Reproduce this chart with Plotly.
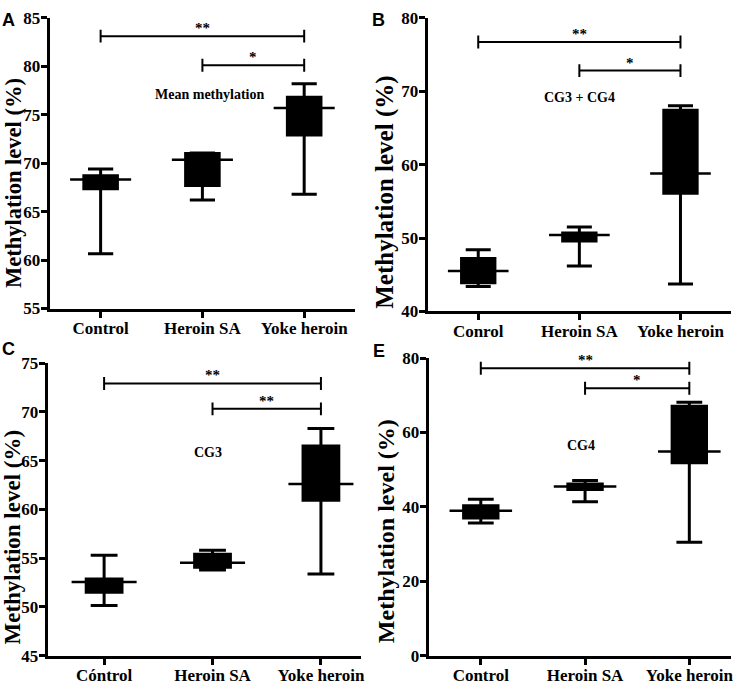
import plotly.graph_objects as go

# ---------------- data ----------------
positions = [0, 1, 2]
labels_A = ["Control", "Heroin SA", "Yoke heroin"]
labels_B = ["Conrol", "Heroin SA", "Yoke heroin"]
labels_C = ["Cóntrol", "Heroin SA", "Yoke heroin"]
labels_E = ["Control", "Heroin SA", "Yoke heroin"]

A_min = [60.65, 66.2, 66.8]
A_q1 = [67.35, 67.7, 72.9]
A_med = [68.3, 70.35, 75.7]
A_q3 = [68.7, 71.0, 76.8]
A_max = [69.4, 71.05, 78.2]

B_min = [43.4, 46.2, 43.75]
B_q1 = [43.9, 49.6, 56.1]
B_med = [45.5, 50.4, 58.8]
B_q3 = [47.2, 50.7, 67.4]
B_max = [48.4, 51.5, 68.0]

C_min = [50.15, 53.8, 53.37]
C_q1 = [51.5, 54.06, 60.94]
C_med = [52.55, 54.53, 62.6]
C_q3 = [52.87, 55.39, 66.5]
C_max = [55.29, 55.8, 68.3]

E_min = [35.7, 41.4, 30.5]
E_q1 = [37.0, 44.7, 51.9]
E_med = [39.0, 45.5, 54.9]
E_q3 = [40.3, 46.2, 67.1]
E_max = [42.1, 47.1, 68.15]

sig_pairs = [(0, 2), (1, 2)]
A_sig_y = [83.1, 80.1]
B_sig_y = [76.7, 72.8]
C_sig_y = [72.9, 70.3]
E_sig_y = [77.3, 71.9]
A_sig_txt = ["**", "*"]
B_sig_txt = ["**", "*"]
C_sig_txt = ["**", "**"]
E_sig_txt = ["**", "*"]

A_title = "Mean methylation"
B_title = "CG3 + CG4"
C_title = "CG3"
E_title = "CG4"
ytitle = "Methylation level (%)"

# ---------------- layout of panels ----------------
W, H = 740, 692
SERIF = "Liberation Serif"

panels = [
    dict(letter="A", ax="", labels=labels_A, mn=A_min, q1=A_q1, md=A_med, q3=A_q3, mx=A_max,
         sig=A_sig_y, sigt=A_sig_txt, title=A_title, title_pos=(1.07, 77.1),
         xpx=(50, 357), ypx=(9, 308), yr=(55, 85), dt=5, xr=(-0.5, 2.5),
         ytc=(13, 179), ytfs=22.5, letter_pos=(9, 11)),
    dict(letter="B", ax="2", labels=labels_B, mn=B_min, q1=B_q1, md=B_med, q3=B_q3, mx=B_max,
         sig=B_sig_y, sigt=B_sig_txt, title=B_title, title_pos=(1.0, 69.2),
         xpx=(430, 735), ypx=(9, 311), yr=(40, 80), dt=10, xr=(-0.5, 2.5),
         ytc=(387, 188), ytfs=25, letter_pos=(381, 11)),
    dict(letter="C", ax="3", labels=labels_C, mn=C_min, q1=C_q1, md=C_med, q3=C_q3, mx=C_max,
         sig=C_sig_y, sigt=C_sig_txt, title=C_title, title_pos=(0.96, 65.8),
         xpx=(48, 363), ypx=(364, 665), yr=(45, 75), dt=5, xr=(-0.52, 2.37),
         ytc=(12.5, 543), ytfs=23, letter_pos=(9, 350)),
    dict(letter="E", ax="4", labels=labels_E, mn=E_min, q1=E_q1, md=E_med, q3=E_q3, mx=E_max,
         sig=E_sig_y, sigt=E_sig_txt, title=E_title, title_pos=(0.96, 56.5),
         xpx=(431, 735), ypx=(359, 665), yr=(0, 80), dt=20, xr=(-0.5, 2.4),
         ytc=(388, 537), ytfs=24, letter_pos=(381, 352)),
]

fig = go.Figure()
annotations = []
layout_axes = {}

for p in panels:
    xa = "x" + p["ax"]
    ya = "y" + p["ax"]
    xkey = "xaxis" + p["ax"]
    ykey = "yaxis" + p["ax"]

    fig.add_trace(go.Box(
        x=positions, q1=p["q1"], median=p["md"], q3=p["q3"],
        lowerfence=p["mn"], upperfence=p["mx"],
        width=0.33, whiskerwidth=0.75, fillcolor="black",
        line=dict(color="black", width=3), boxpoints=False,
        xaxis=xa, yaxis=ya, showlegend=False, hoverinfo="skip"))

    # median lines extending beyond the boxes
    mxs, mys = [], []
    for i, m in zip(positions, p["md"]):
        mxs += [i - 0.3, i + 0.3, None]
        mys += [m, m, None]
    fig.add_trace(go.Scatter(x=mxs, y=mys, mode="lines",
                             line=dict(color="black", width=2.5),
                             xaxis=xa, yaxis=ya, showlegend=False, hoverinfo="skip"))

    # significance brackets
    span = p["yr"][1] - p["yr"][0]
    d = 0.022 * span
    bx, by = [], []
    for (a, b), h, t in zip(sig_pairs, p["sig"], p["sigt"]):
        bx += [a, a, None, a, b, None, b, b, None]
        by += [h - d, h + d, None, h, h, None, h - d, h + d, None]
        annotations.append(dict(x=(a + b) / 2, y=h, xref=xa, yref=ya, text=t,
                                showarrow=False, yanchor="bottom", yshift=-2,
                                font=dict(family=SERIF, size=15, color="black", weight="bold")))
    fig.add_trace(go.Scatter(x=bx, y=by, mode="lines",
                             line=dict(color="black", width=2),
                             xaxis=xa, yaxis=ya, showlegend=False, hoverinfo="skip"))

    annotations.append(dict(x=p["title_pos"][0], y=p["title_pos"][1], xref=xa, yref=ya,
                            text=p["title"], showarrow=False,
                            font=dict(family=SERIF, size=14, color="black", weight="bold")))

    # y-axis title
    annotations.append(dict(x=p["ytc"][0] / W, y=1 - p["ytc"][1] / H, xref="paper", yref="paper",
                            text=ytitle, textangle=-90, showarrow=False,
                            xanchor="center", yanchor="middle",
                            font=dict(family=SERIF, size=p["ytfs"], color="black", weight="bold")))
    # panel letter
    annotations.append(dict(x=p["letter_pos"][0] / W, y=1 - p["letter_pos"][1] / H,
                            xref="paper", yref="paper", text=p["letter"], showarrow=False,
                            xanchor="center", yanchor="middle",
                            font=dict(family="Liberation Sans", size=18, color="black", weight="bold")))

    layout_axes[xkey] = dict(
        domain=[p["xpx"][0] / W, p["xpx"][1] / W], range=list(p["xr"]), anchor=ya,
        tickmode="array", tickvals=positions, ticktext=p["labels"],
        showline=True, linecolor="black", linewidth=3, ticks="outside",
        ticklen=6, tickwidth=2.5, tickcolor="black", showgrid=False, zeroline=False,
        ticklabelstandoff=-4,
        tickfont=dict(family=SERIF, size=17, color="black", weight="bold"), fixedrange=True)
    layout_axes[ykey] = dict(
        domain=[1 - p["ypx"][1] / H, 1 - p["ypx"][0] / H], range=list(p["yr"]), anchor=xa,
        tick0=p["yr"][0], dtick=p["dt"],
        showline=True, linecolor="black", linewidth=3, ticks="outside",
        ticklen=6, tickwidth=2.5, tickcolor="black", showgrid=False, zeroline=False,
        ticklabelstandoff=-3,
        tickfont=dict(family=SERIF, size=17, color="black", weight="bold"), fixedrange=True)

fig.update_layout(
    width=W, height=H, autosize=False,
    margin=dict(l=0, r=0, t=0, b=0),
    paper_bgcolor="white", plot_bgcolor="white",
    showlegend=False, annotations=annotations, **layout_axes)

fig.write_html("out.html", config={"displayModeBar": False},
               post_script="document.body.style.margin='0';document.body.style.overflow='hidden';")
